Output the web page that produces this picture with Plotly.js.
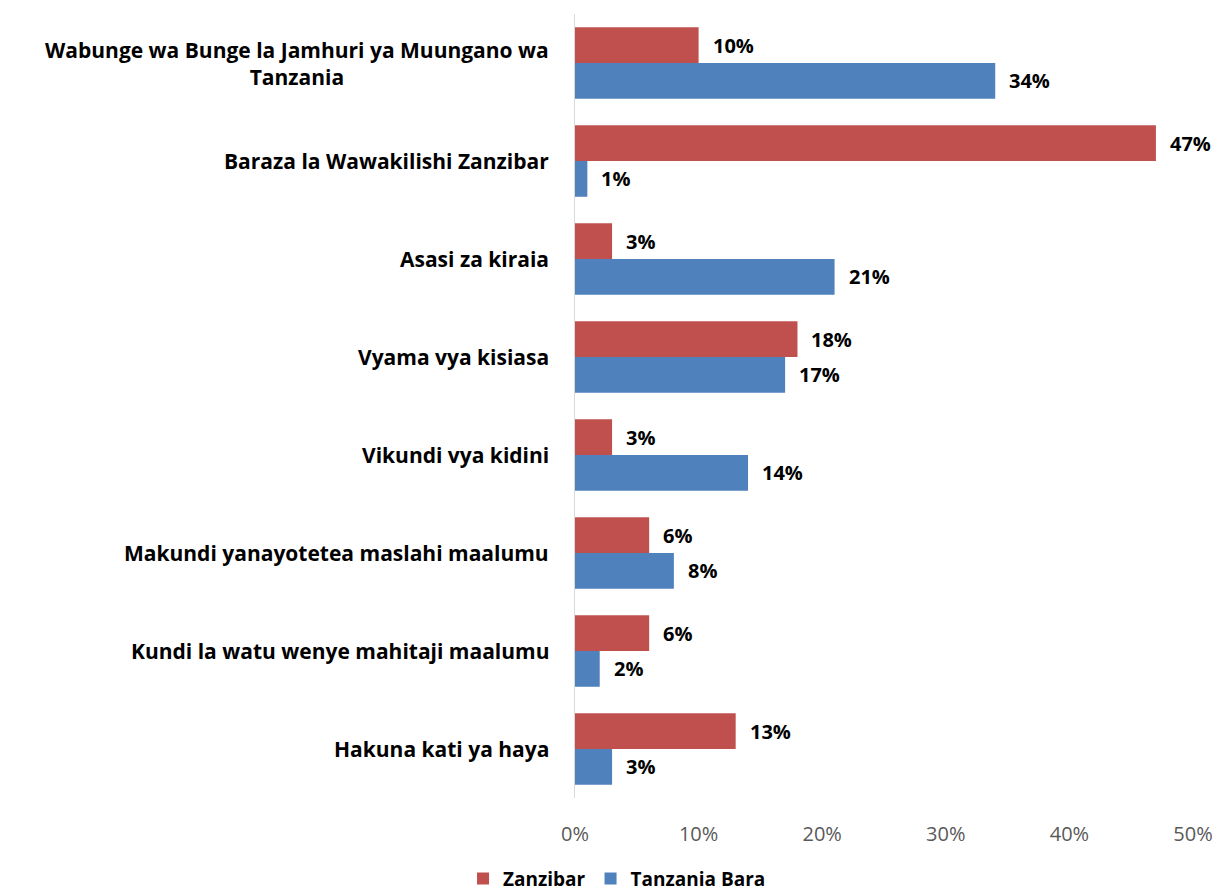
<!DOCTYPE html>
<html>
<head>
<meta charset="utf-8">
<script src="https://cdn.plot.ly/plotly-3.0.1.min.js"></script>
<style>html,body{margin:0;padding:0;background:#fff;}#chart{width:1217px;height:893px;}</style>
</head>
<body>
<div id="chart"></div>
<script>
const categories = [
  "Wabunge wa Bunge la Jamhuri ya Muungano wa<br>Tanzania",
  "Baraza la Wawakilishi Zanzibar",
  "Asasi za kiraia",
  "Vyama vya kisiasa",
  "Vikundi vya kidini",
  "Makundi yanayotetea maslahi maalumu",
  "Kundi la watu wenye mahitaji maalumu",
  "Hakuna kati ya haya"
];
const seriesNames = ["Zanzibar", "Tanzania Bara"];
const zanzibar = [0.10, 0.47, 0.03, 0.18, 0.03, 0.06, 0.06, 0.13];
const tanzaniaBara = [0.34, 0.01, 0.21, 0.17, 0.14, 0.08, 0.02, 0.03];
const tickVals = [0, 0.1, 0.2, 0.3, 0.4, 0.5];
const tickText = ["0%", "10%", "20%", "30%", "40%", "50%"];
const colors = ["#C0504D", "#4F81BD"];

const FONT = "'Open Sans', 'Noto Sans', sans-serif";
const bargap = 0.27;
const barW = (1 - bargap) / 2;

const traces = [zanzibar, tanzaniaBara].map((vals, i) => ({
  type: 'bar',
  orientation: 'h',
  name: seriesNames[i],
  x: vals,
  y: categories.map((c, k) => k),
  marker: {color: colors[i]},
  hoverinfo: 'x+y'
}));

const annotations = [];
categories.forEach((c, k) => {
  annotations.push({
    xref: 'paper', x: 0, xshift: -24, xanchor: 'right',
    yref: 'y', y: k, yanchor: 'middle', align: 'center',
    text: '<b>' + c + '</b>', showarrow: false,
    font: {family: FONT, size: 21, color: '#000'}
  });
});
[zanzibar, tanzaniaBara].forEach((vals, i) => {
  vals.forEach((v, k) => {
    annotations.push({
      xref: 'x', x: v, xanchor: 'left', xshift: 12,
      yref: 'y', y: k + (i === 0 ? -barW / 2 : barW / 2), yanchor: 'middle',
      text: '<b>' + Math.round(v * 100) + '%</b>', showarrow: false,
      font: {family: FONT, size: 20, color: '#000'}
    });
  });
});

const layout = {
  width: 1217, height: 893,
  margin: {l: 575, r: 24, t: 14, b: 95},
  paper_bgcolor: '#fff', plot_bgcolor: '#fff',
  barmode: 'group', bargap: bargap, bargroupgap: 0,
  showlegend: true,
  legend: {
    orientation: 'h', xref: 'container', yref: 'container',
    x: 0.507, xanchor: 'center', y: 0.016, yanchor: 'middle',
    font: {family: FONT, size: 19, color: '#000', weight: 'bold'},
    traceorder: 'normal', itemwidth: 30
  },
  xaxis: {
    range: [0, 0.5], tickvals: tickVals, ticktext: tickText,
    showgrid: false, zeroline: false, showline: false,
    ticks: 'outside', ticklen: 18, tickcolor: 'rgba(0,0,0,0)',
    tickfont: {family: FONT, size: 20, color: '#595959'}
  },
  yaxis: {
    autorange: false, range: [7.5, -0.5],
    tickvals: [], showticklabels: false,
    showgrid: false, zeroline: false,
    showline: true, linecolor: '#D9D9D9', linewidth: 1
  },
  annotations: annotations
};

Plotly.newPlot('chart', traces, layout, {displayModeBar: false, staticPlot: true});
</script>
</body>
</html>
